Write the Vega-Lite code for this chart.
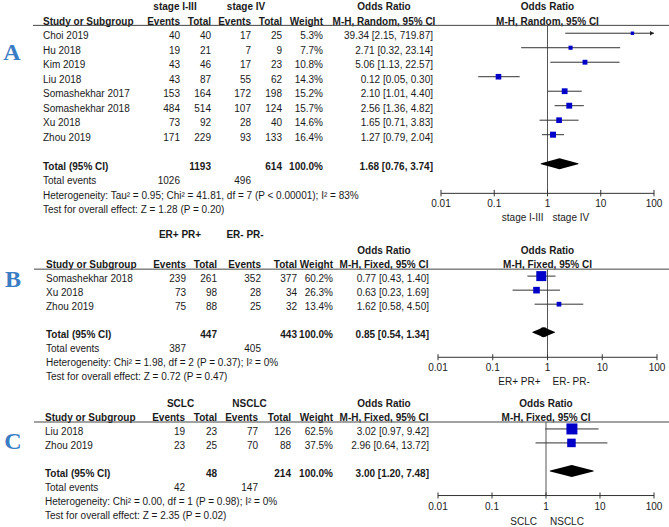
{
"$schema": "https://vega.github.io/schema/vega-lite/v6.json",
"padding": 0,
"spacing": 0,
"config": {"view": {"stroke": null}, "text": {"font": "Liberation Sans", "fontSize": 10, "color": "#1a1a1a", "baseline": "middle"}},
"datasets": {
"A": [
{"kind": "group", "row": 0, "g1": "stage I-III", "g2": "stage IV", "orh": "Odds Ratio"},
{"kind": "header", "row": 1, "label": "Study or Subgroup", "e1": "Events", "n1": "Total", "e2": "Events", "n2": "Total", "w": "Weight", "orh": "M-H, Random, 95% CI"},
{"kind": "study", "row": 2, "label": "Choi 2019", "e1": "40", "n1": "40", "e2": "17", "n2": "25", "w": "5.3%", "ci": "39.34 [2.15, 719.87]", "or": 39.34, "lo": 2.15, "hi": 719.87, "wt": 5.3},
{"kind": "study", "row": 3, "label": "Hu 2018", "e1": "19", "n1": "21", "e2": "7", "n2": "9", "w": "7.7%", "ci": "2.71 [0.32, 23.14]", "or": 2.71, "lo": 0.32, "hi": 23.14, "wt": 7.7},
{"kind": "study", "row": 4, "label": "Kim 2019", "e1": "43", "n1": "46", "e2": "17", "n2": "23", "w": "10.8%", "ci": "5.06 [1.13, 22.57]", "or": 5.06, "lo": 1.13, "hi": 22.57, "wt": 10.8},
{"kind": "study", "row": 5, "label": "Liu 2018", "e1": "43", "n1": "87", "e2": "55", "n2": "62", "w": "14.3%", "ci": "0.12 [0.05, 0.30]", "or": 0.12, "lo": 0.05, "hi": 0.30, "wt": 14.3},
{"kind": "study", "row": 6, "label": "Somashekhar 2017", "e1": "153", "n1": "164", "e2": "172", "n2": "198", "w": "15.2%", "ci": "2.10 [1.01, 4.40]", "or": 2.10, "lo": 1.01, "hi": 4.40, "wt": 15.2},
{"kind": "study", "row": 7, "label": "Somashekhar 2018", "e1": "484", "n1": "514", "e2": "107", "n2": "124", "w": "15.7%", "ci": "2.56 [1.36, 4.82]", "or": 2.56, "lo": 1.36, "hi": 4.82, "wt": 15.7},
{"kind": "study", "row": 8, "label": "Xu 2018", "e1": "73", "n1": "92", "e2": "28", "n2": "40", "w": "14.6%", "ci": "1.65 [0.71, 3.83]", "or": 1.65, "lo": 0.71, "hi": 3.83, "wt": 14.6},
{"kind": "study", "row": 9, "label": "Zhou 2019", "e1": "171", "n1": "229", "e2": "93", "n2": "133", "w": "16.4%", "ci": "1.27 [0.79, 2.04]", "or": 1.27, "lo": 0.79, "hi": 2.04, "wt": 16.4},
{"kind": "total", "row": 11, "label": "Total (95% CI)", "n1": "1193", "n2": "614", "w": "100.0%", "ci": "1.68 [0.76, 3.74]", "or": 1.68, "lo": 0.76, "hi": 3.74},
{"kind": "events", "row": 12, "label": "Total events", "e1": "1026", "e2": "496"},
{"kind": "note", "row": 13, "label": "Heterogeneity: Tau² = 0.95; Chi² = 41.81, df = 7 (P < 0.00001); I² = 83%"},
{"kind": "note", "row": 14, "label": "Test for overall effect: Z = 1.28 (P = 0.20)"}
],
"B": [
{"kind": "group", "row": -1.15, "g1": "ER+ PR+", "g2": "ER- PR-"},
{"kind": "orgroup", "row": 0, "orh": "Odds Ratio"},
{"kind": "header", "row": 1, "label": "Study or Subgroup", "e1": "Events", "n1": "Total", "e2": "Events", "n2": "Total", "w": "Weight", "orh": "M-H, Fixed, 95% CI"},
{"kind": "study", "row": 2, "label": "Somashekhar 2018", "e1": "239", "n1": "261", "e2": "352", "n2": "377", "w": "60.2%", "ci": "0.77 [0.43, 1.40]", "or": 0.77, "lo": 0.43, "hi": 1.40, "wt": 60.2},
{"kind": "study", "row": 3, "label": "Xu 2018", "e1": "73", "n1": "98", "e2": "28", "n2": "34", "w": "26.3%", "ci": "0.63 [0.23, 1.69]", "or": 0.63, "lo": 0.23, "hi": 1.69, "wt": 26.3},
{"kind": "study", "row": 4, "label": "Zhou 2019", "e1": "75", "n1": "88", "e2": "25", "n2": "32", "w": "13.4%", "ci": "1.62 [0.58, 4.50]", "or": 1.62, "lo": 0.58, "hi": 4.50, "wt": 13.4},
{"kind": "total", "row": 6, "label": "Total (95% CI)", "n1": "447", "n2": "443", "w": "100.0%", "ci": "0.85 [0.54, 1.34]", "or": 0.85, "lo": 0.54, "hi": 1.34},
{"kind": "events", "row": 7, "label": "Total events", "e1": "387", "e2": "405"},
{"kind": "note", "row": 8, "label": "Heterogeneity: Chi² = 1.98, df = 2 (P = 0.37); I² = 0%"},
{"kind": "note", "row": 9, "label": "Test for overall effect: Z = 0.72 (P = 0.47)"}
],
"C": [
{"kind": "group", "row": 0, "g1": "SCLC", "g2": "NSCLC", "orh": "Odds Ratio"},
{"kind": "header", "row": 1, "label": "Study or Subgroup", "e1": "Events", "n1": "Total", "e2": "Events", "n2": "Total", "w": "Weight", "orh": "M-H, Fixed, 95% CI"},
{"kind": "study", "row": 2, "label": "Liu 2018", "e1": "19", "n1": "23", "e2": "77", "n2": "126", "w": "62.5%", "ci": "3.02 [0.97, 9.42]", "or": 3.02, "lo": 0.97, "hi": 9.42, "wt": 62.5},
{"kind": "study", "row": 3, "label": "Zhou 2019", "e1": "23", "n1": "25", "e2": "70", "n2": "88", "w": "37.5%", "ci": "2.96 [0.64, 13.72]", "or": 2.96, "lo": 0.64, "hi": 13.72, "wt": 37.5},
{"kind": "total", "row": 5, "label": "Total (95% CI)", "n1": "48", "n2": "214", "w": "100.0%", "ci": "3.00 [1.20, 7.48]", "or": 3.00, "lo": 1.20, "hi": 7.48},
{"kind": "events", "row": 6, "label": "Total events", "e1": "42", "e2": "147"},
{"kind": "note", "row": 7, "label": "Heterogeneity: Chi² = 0.00, df = 1 (P = 0.98); I² = 0%"},
{"kind": "note", "row": 8, "label": "Test for overall effect: Z = 2.35 (P = 0.02)"}
],
"ticks": [
{"t": 0.01, "lab": "0.01"}, {"t": 0.1, "lab": "0.1"}, {"t": 1, "lab": "1"}, {"t": 10, "lab": "10"}, {"t": 100, "lab": "100"}
]
},
"vconcat": [
{"hconcat": [
{"width": 441, "height": 229, "data": {"name": "A"},
"layer": [
{"transform": [{"filter": "datum.label"}], "mark": {"type": "text", "align": "left", "fontWeight": {"expr": "datum.kind=='header'||datum.kind=='total'?'bold':'normal'"}}, "encoding": {"x": {"datum": 43, "type": "quantitative", "scale": {"domain": [0, 441], "nice": false, "zero": false}, "axis": null}, "y": {"field": "row", "type": "quantitative", "scale": {"domain": [-0.5, 15.3], "reverse": true, "nice": false, "zero": false}, "axis": null}, "text": {"field": "label", "type": "nominal"}}},
{"transform": [{"filter": "datum.e1"}], "mark": {"type": "text", "align": "right", "fontWeight": {"expr": "datum.kind=='header'||datum.kind=='total'?'bold':'normal'"}}, "encoding": {"x": {"datum": 180, "type": "quantitative", "scale": {"domain": [0, 441], "nice": false, "zero": false}, "axis": null}, "y": {"field": "row", "type": "quantitative", "scale": {"domain": [-0.5, 15.3], "reverse": true, "nice": false, "zero": false}, "axis": null}, "text": {"field": "e1", "type": "nominal"}}},
{"transform": [{"filter": "datum.n1"}], "mark": {"type": "text", "align": "right", "fontWeight": {"expr": "datum.kind=='header'||datum.kind=='total'?'bold':'normal'"}}, "encoding": {"x": {"datum": 211, "type": "quantitative", "scale": {"domain": [0, 441], "nice": false, "zero": false}, "axis": null}, "y": {"field": "row", "type": "quantitative", "scale": {"domain": [-0.5, 15.3], "reverse": true, "nice": false, "zero": false}, "axis": null}, "text": {"field": "n1", "type": "nominal"}}},
{"transform": [{"filter": "datum.e2"}], "mark": {"type": "text", "align": "right", "fontWeight": {"expr": "datum.kind=='header'||datum.kind=='total'?'bold':'normal'"}}, "encoding": {"x": {"datum": 251, "type": "quantitative", "scale": {"domain": [0, 441], "nice": false, "zero": false}, "axis": null}, "y": {"field": "row", "type": "quantitative", "scale": {"domain": [-0.5, 15.3], "reverse": true, "nice": false, "zero": false}, "axis": null}, "text": {"field": "e2", "type": "nominal"}}},
{"transform": [{"filter": "datum.n2"}], "mark": {"type": "text", "align": "right", "fontWeight": {"expr": "datum.kind=='header'||datum.kind=='total'?'bold':'normal'"}}, "encoding": {"x": {"datum": 282, "type": "quantitative", "scale": {"domain": [0, 441], "nice": false, "zero": false}, "axis": null}, "y": {"field": "row", "type": "quantitative", "scale": {"domain": [-0.5, 15.3], "reverse": true, "nice": false, "zero": false}, "axis": null}, "text": {"field": "n2", "type": "nominal"}}},
{"transform": [{"filter": "datum.w"}], "mark": {"type": "text", "align": "right", "fontWeight": {"expr": "datum.kind=='header'||datum.kind=='total'?'bold':'normal'"}}, "encoding": {"x": {"datum": 323, "type": "quantitative", "scale": {"domain": [0, 441], "nice": false, "zero": false}, "axis": null}, "y": {"field": "row", "type": "quantitative", "scale": {"domain": [-0.5, 15.3], "reverse": true, "nice": false, "zero": false}, "axis": null}, "text": {"field": "w", "type": "nominal"}}},
{"transform": [{"filter": "datum.ci"}], "mark": {"type": "text", "align": "right", "fontWeight": {"expr": "datum.kind=='header'||datum.kind=='total'?'bold':'normal'"}}, "encoding": {"x": {"datum": 433, "type": "quantitative", "scale": {"domain": [0, 441], "nice": false, "zero": false}, "axis": null}, "y": {"field": "row", "type": "quantitative", "scale": {"domain": [-0.5, 15.3], "reverse": true, "nice": false, "zero": false}, "axis": null}, "text": {"field": "ci", "type": "nominal"}}},
{"transform": [{"filter": "datum.g1"}], "mark": {"type": "text", "align": "center", "fontWeight": "bold"}, "encoding": {"x": {"datum": 175, "type": "quantitative", "scale": {"domain": [0, 441], "nice": false, "zero": false}, "axis": null}, "y": {"field": "row", "type": "quantitative", "scale": {"domain": [-0.5, 15.3], "reverse": true, "nice": false, "zero": false}, "axis": null}, "text": {"field": "g1", "type": "nominal"}}},
{"transform": [{"filter": "datum.g2"}], "mark": {"type": "text", "align": "center", "fontWeight": "bold"}, "encoding": {"x": {"datum": 246, "type": "quantitative", "scale": {"domain": [0, 441], "nice": false, "zero": false}, "axis": null}, "y": {"field": "row", "type": "quantitative", "scale": {"domain": [-0.5, 15.3], "reverse": true, "nice": false, "zero": false}, "axis": null}, "text": {"field": "g2", "type": "nominal"}}},
{"transform": [{"filter": "datum.orh"}], "mark": {"type": "text", "align": "center", "fontWeight": "bold"}, "encoding": {"x": {"datum": 384, "type": "quantitative", "scale": {"domain": [0, 441], "nice": false, "zero": false}, "axis": null}, "y": {"field": "row", "type": "quantitative", "scale": {"domain": [-0.5, 15.3], "reverse": true, "nice": false, "zero": false}, "axis": null}, "text": {"field": "orh", "type": "nominal"}}},
{"data": {"values": [{}]}, "mark": {"type": "rule", "color": "#444"}, "encoding": {"x": {"datum": 33, "type": "quantitative", "scale": {"domain": [0, 441], "nice": false, "zero": false}, "axis": null}, "x2": {"datum": 441}, "y": {"datum": 1.25, "type": "quantitative", "scale": {"domain": [-0.5, 15.3], "reverse": true, "nice": false, "zero": false}, "axis": null}}},
{"data": {"values": [{"p": "A"}]}, "mark": {"type": "text", "font": "Liberation Serif", "fontSize": 24, "fontWeight": "bold", "color": "#3b7dc4"}, "encoding": {"x": {"datum": 12, "type": "quantitative", "scale": {"domain": [0, 441], "nice": false, "zero": false}, "axis": null}, "y": {"datum": 3.16, "type": "quantitative", "scale": {"domain": [-0.5, 15.3], "reverse": true, "nice": false, "zero": false}, "axis": null}, "text": {"field": "p", "type": "nominal"}}}
]},
{"width": 213, "height": 229, "data": {"name": "A"},
"resolve": {"scale": {"size": "independent"}},
"layer": [
{"transform": [{"filter": "datum.orh"}], "mark": {"type": "text", "fontWeight": "bold"}, "encoding": {"x": {"datum": 1, "type": "quantitative", "scale": {"type": "log", "domain": [0.01, 100], "nice": false, "clamp": true}, "axis": null}, "y": {"field": "row", "type": "quantitative", "scale": {"domain": [-0.5, 15.3], "reverse": true, "nice": false, "zero": false}, "axis": null}, "text": {"field": "orh", "type": "nominal"}}},
{"data": {"values": [{}]}, "mark": {"type": "rule", "color": "#444", "x2Offset": 15}, "encoding": {"x": {"datum": 0.01, "type": "quantitative", "scale": {"type": "log", "domain": [0.01, 100], "nice": false, "clamp": true}, "axis": null}, "x2": {"datum": 100}, "y": {"datum": 1.25, "type": "quantitative", "scale": {"domain": [-0.5, 15.3], "reverse": true, "nice": false, "zero": false}, "axis": null}}},
{"data": {"values": [{}]}, "mark": {"type": "rule", "color": "#555"}, "encoding": {"x": {"datum": 1, "type": "quantitative", "scale": {"type": "log", "domain": [0.01, 100], "nice": false, "clamp": true}, "axis": null}, "y": {"datum": 1.25, "type": "quantitative", "scale": {"domain": [-0.5, 15.3], "reverse": true, "nice": false, "zero": false}, "axis": null}, "y2": {"datum": 12.84}}},
{"data": {"values": [{}]}, "mark": {"type": "rule", "color": "#333"}, "encoding": {"x": {"datum": 0.01, "type": "quantitative", "scale": {"type": "log", "domain": [0.01, 100], "nice": false, "clamp": true}, "axis": null}, "x2": {"datum": 100}, "y": {"datum": 12.84, "type": "quantitative", "scale": {"domain": [-0.5, 15.3], "reverse": true, "nice": false, "zero": false}, "axis": null}}},
{"data": {"name": "ticks"}, "mark": {"type": "rule", "color": "#333"}, "encoding": {"x": {"field": "t", "type": "quantitative", "scale": {"type": "log", "domain": [0.01, 100], "nice": false, "clamp": true}, "axis": null}, "y": {"datum": 12.6, "type": "quantitative", "scale": {"domain": [-0.5, 15.3], "reverse": true, "nice": false, "zero": false}, "axis": null}, "y2": {"datum": 13.05}}},
{"data": {"name": "ticks"}, "mark": {"type": "text"}, "encoding": {"x": {"field": "t", "type": "quantitative", "scale": {"type": "log", "domain": [0.01, 100], "nice": false, "clamp": true}, "axis": null}, "y": {"datum": 13.6, "type": "quantitative", "scale": {"domain": [-0.5, 15.3], "reverse": true, "nice": false, "zero": false}, "axis": null}, "text": {"field": "lab", "type": "nominal"}}},
{"data": {"values": [{"s": "stage I-III"}]}, "mark": {"type": "text", "align": "right", "dx": -4}, "encoding": {"x": {"datum": 1, "type": "quantitative", "scale": {"type": "log", "domain": [0.01, 100], "nice": false, "clamp": true}, "axis": null}, "y": {"datum": 14.56, "type": "quantitative", "scale": {"domain": [-0.5, 15.3], "reverse": true, "nice": false, "zero": false}, "axis": null}, "text": {"field": "s", "type": "nominal"}}},
{"data": {"values": [{"s": "stage IV"}]}, "mark": {"type": "text", "align": "left", "dx": 5}, "encoding": {"x": {"datum": 1, "type": "quantitative", "scale": {"type": "log", "domain": [0.01, 100], "nice": false, "clamp": true}, "axis": null}, "y": {"datum": 14.56, "type": "quantitative", "scale": {"domain": [-0.5, 15.3], "reverse": true, "nice": false, "zero": false}, "axis": null}, "text": {"field": "s", "type": "nominal"}}},
{"transform": [{"filter": "datum.kind=='study'"}], "mark": {"type": "rule", "color": "#333", "yOffset": -3}, "encoding": {"x": {"field": "lo", "type": "quantitative", "scale": {"type": "log", "domain": [0.01, 100], "nice": false, "clamp": true}, "axis": null}, "x2": {"field": "hi"}, "y": {"field": "row", "type": "quantitative", "scale": {"domain": [-0.5, 15.3], "reverse": true, "nice": false, "zero": false}, "axis": null}}},
{"transform": [{"filter": "datum.kind=='study' && datum.hi > 100"}], "mark": {"type": "point", "shape": "triangle-right", "filled": true, "color": "#222", "opacity": 1, "size": 22, "yOffset": -3, "xOffset": -2}, "encoding": {"x": {"datum": 100, "type": "quantitative", "scale": {"type": "log", "domain": [0.01, 100], "nice": false, "clamp": true}, "axis": null}, "y": {"field": "row", "type": "quantitative", "scale": {"domain": [-0.5, 15.3], "reverse": true, "nice": false, "zero": false}, "axis": null}}},
{"transform": [{"filter": "datum.kind=='study'"}], "mark": {"type": "point", "shape": "square", "filled": true, "color": "#0000c8", "opacity": 1, "yOffset": -3}, "encoding": {"x": {"field": "or", "type": "quantitative", "scale": {"type": "log", "domain": [0.01, 100], "nice": false, "clamp": true}, "axis": null}, "y": {"field": "row", "type": "quantitative", "scale": {"domain": [-0.5, 15.3], "reverse": true, "nice": false, "zero": false}, "axis": null}, "size": {"field": "wt", "type": "quantitative", "scale": {"domain": [0, 16.4], "range": [0, 36]}, "legend": null}}},
{"transform": [{"filter": "datum.kind=='total'"}, {"fold": ["lo", "or", "hi"], "as": ["k", "v"]}], "mark": {"type": "trail", "color": "#000", "size": {"expr": "datum.k=='or'?11:0"}, "yOffset": -3}, "encoding": {"x": {"field": "v", "type": "quantitative", "scale": {"type": "log", "domain": [0.01, 100], "nice": false, "clamp": true}, "axis": null}, "y": {"field": "row", "type": "quantitative", "scale": {"domain": [-0.5, 15.3], "reverse": true, "nice": false, "zero": false}, "axis": null}}}
]}
], "spacing": 0, "bounds": "flush"},
{"hconcat": [
{"width": 438, "height": 161, "data": {"name": "B"},
"layer": [
{"transform": [{"filter": "datum.label"}], "mark": {"type": "text", "align": "left", "fontWeight": {"expr": "datum.kind=='header'||datum.kind=='total'?'bold':'normal'"}}, "encoding": {"x": {"datum": 46, "type": "quantitative", "scale": {"domain": [0, 438], "nice": false, "zero": false}, "axis": null}, "y": {"field": "row", "type": "quantitative", "scale": {"domain": [-1.57, 9.9], "reverse": true, "nice": false, "zero": false}, "axis": null}, "text": {"field": "label", "type": "nominal"}}},
{"transform": [{"filter": "datum.e1"}], "mark": {"type": "text", "align": "right", "fontWeight": {"expr": "datum.kind=='header'||datum.kind=='total'?'bold':'normal'"}}, "encoding": {"x": {"datum": 186, "type": "quantitative", "scale": {"domain": [0, 438], "nice": false, "zero": false}, "axis": null}, "y": {"field": "row", "type": "quantitative", "scale": {"domain": [-1.57, 9.9], "reverse": true, "nice": false, "zero": false}, "axis": null}, "text": {"field": "e1", "type": "nominal"}}},
{"transform": [{"filter": "datum.n1"}], "mark": {"type": "text", "align": "right", "fontWeight": {"expr": "datum.kind=='header'||datum.kind=='total'?'bold':'normal'"}}, "encoding": {"x": {"datum": 217, "type": "quantitative", "scale": {"domain": [0, 438], "nice": false, "zero": false}, "axis": null}, "y": {"field": "row", "type": "quantitative", "scale": {"domain": [-1.57, 9.9], "reverse": true, "nice": false, "zero": false}, "axis": null}, "text": {"field": "n1", "type": "nominal"}}},
{"transform": [{"filter": "datum.e2"}], "mark": {"type": "text", "align": "right", "fontWeight": {"expr": "datum.kind=='header'||datum.kind=='total'?'bold':'normal'"}}, "encoding": {"x": {"datum": 261, "type": "quantitative", "scale": {"domain": [0, 438], "nice": false, "zero": false}, "axis": null}, "y": {"field": "row", "type": "quantitative", "scale": {"domain": [-1.57, 9.9], "reverse": true, "nice": false, "zero": false}, "axis": null}, "text": {"field": "e2", "type": "nominal"}}},
{"transform": [{"filter": "datum.n2"}], "mark": {"type": "text", "align": "right", "fontWeight": {"expr": "datum.kind=='header'||datum.kind=='total'?'bold':'normal'"}}, "encoding": {"x": {"datum": 297, "type": "quantitative", "scale": {"domain": [0, 438], "nice": false, "zero": false}, "axis": null}, "y": {"field": "row", "type": "quantitative", "scale": {"domain": [-1.57, 9.9], "reverse": true, "nice": false, "zero": false}, "axis": null}, "text": {"field": "n2", "type": "nominal"}}},
{"transform": [{"filter": "datum.w"}], "mark": {"type": "text", "align": "right", "fontWeight": {"expr": "datum.kind=='header'||datum.kind=='total'?'bold':'normal'"}}, "encoding": {"x": {"datum": 333, "type": "quantitative", "scale": {"domain": [0, 438], "nice": false, "zero": false}, "axis": null}, "y": {"field": "row", "type": "quantitative", "scale": {"domain": [-1.57, 9.9], "reverse": true, "nice": false, "zero": false}, "axis": null}, "text": {"field": "w", "type": "nominal"}}},
{"transform": [{"filter": "datum.ci"}], "mark": {"type": "text", "align": "right", "fontWeight": {"expr": "datum.kind=='header'||datum.kind=='total'?'bold':'normal'"}}, "encoding": {"x": {"datum": 429, "type": "quantitative", "scale": {"domain": [0, 438], "nice": false, "zero": false}, "axis": null}, "y": {"field": "row", "type": "quantitative", "scale": {"domain": [-1.57, 9.9], "reverse": true, "nice": false, "zero": false}, "axis": null}, "text": {"field": "ci", "type": "nominal"}}},
{"transform": [{"filter": "datum.g1"}], "mark": {"type": "text", "align": "center", "fontWeight": "bold"}, "encoding": {"x": {"datum": 180, "type": "quantitative", "scale": {"domain": [0, 438], "nice": false, "zero": false}, "axis": null}, "y": {"field": "row", "type": "quantitative", "scale": {"domain": [-1.57, 9.9], "reverse": true, "nice": false, "zero": false}, "axis": null}, "text": {"field": "g1", "type": "nominal"}}},
{"transform": [{"filter": "datum.g2"}], "mark": {"type": "text", "align": "center", "fontWeight": "bold"}, "encoding": {"x": {"datum": 245, "type": "quantitative", "scale": {"domain": [0, 438], "nice": false, "zero": false}, "axis": null}, "y": {"field": "row", "type": "quantitative", "scale": {"domain": [-1.57, 9.9], "reverse": true, "nice": false, "zero": false}, "axis": null}, "text": {"field": "g2", "type": "nominal"}}},
{"transform": [{"filter": "datum.orh"}], "mark": {"type": "text", "align": "center", "fontWeight": "bold"}, "encoding": {"x": {"datum": 384, "type": "quantitative", "scale": {"domain": [0, 438], "nice": false, "zero": false}, "axis": null}, "y": {"field": "row", "type": "quantitative", "scale": {"domain": [-1.57, 9.9], "reverse": true, "nice": false, "zero": false}, "axis": null}, "text": {"field": "orh", "type": "nominal"}}},
{"data": {"values": [{}]}, "mark": {"type": "rule", "color": "#444"}, "encoding": {"x": {"datum": 34, "type": "quantitative", "scale": {"domain": [0, 438], "nice": false, "zero": false}, "axis": null}, "x2": {"datum": 438}, "y": {"datum": 1.29, "type": "quantitative", "scale": {"domain": [-1.57, 9.9], "reverse": true, "nice": false, "zero": false}, "axis": null}}},
{"data": {"values": [{"p": "B"}]}, "mark": {"type": "text", "font": "Liberation Serif", "fontSize": 24, "fontWeight": "bold", "color": "#3b7dc4"}, "encoding": {"x": {"datum": 13, "type": "quantitative", "scale": {"domain": [0, 438], "nice": false, "zero": false}, "axis": null}, "y": {"datum": 2.07, "type": "quantitative", "scale": {"domain": [-1.57, 9.9], "reverse": true, "nice": false, "zero": false}, "axis": null}, "text": {"field": "p", "type": "nominal"}}}
]},
{"width": 219, "height": 161, "data": {"name": "B"},
"resolve": {"scale": {"size": "independent"}},
"layer": [
{"transform": [{"filter": "datum.orh"}], "mark": {"type": "text", "fontWeight": "bold"}, "encoding": {"x": {"datum": 1, "type": "quantitative", "scale": {"type": "log", "domain": [0.01, 100], "nice": false, "clamp": true}, "axis": null}, "y": {"field": "row", "type": "quantitative", "scale": {"domain": [-1.57, 9.9], "reverse": true, "nice": false, "zero": false}, "axis": null}, "text": {"field": "orh", "type": "nominal"}}},
{"data": {"values": [{}]}, "mark": {"type": "rule", "color": "#444", "x2Offset": 12}, "encoding": {"x": {"datum": 0.01, "type": "quantitative", "scale": {"type": "log", "domain": [0.01, 100], "nice": false, "clamp": true}, "axis": null}, "x2": {"datum": 100}, "y": {"datum": 1.29, "type": "quantitative", "scale": {"domain": [-1.57, 9.9], "reverse": true, "nice": false, "zero": false}, "axis": null}}},
{"data": {"values": [{}]}, "mark": {"type": "rule", "color": "#555"}, "encoding": {"x": {"datum": 1, "type": "quantitative", "scale": {"type": "log", "domain": [0.01, 100], "nice": false, "clamp": true}, "axis": null}, "y": {"datum": 1.29, "type": "quantitative", "scale": {"domain": [-1.57, 9.9], "reverse": true, "nice": false, "zero": false}, "axis": null}, "y2": {"datum": 7.57}}},
{"data": {"values": [{}]}, "mark": {"type": "rule", "color": "#333"}, "encoding": {"x": {"datum": 0.01, "type": "quantitative", "scale": {"type": "log", "domain": [0.01, 100], "nice": false, "clamp": true}, "axis": null}, "x2": {"datum": 100}, "y": {"datum": 7.57, "type": "quantitative", "scale": {"domain": [-1.57, 9.9], "reverse": true, "nice": false, "zero": false}, "axis": null}}},
{"data": {"name": "ticks"}, "mark": {"type": "rule", "color": "#333"}, "encoding": {"x": {"field": "t", "type": "quantitative", "scale": {"type": "log", "domain": [0.01, 100], "nice": false, "clamp": true}, "axis": null}, "y": {"datum": 7.35, "type": "quantitative", "scale": {"domain": [-1.57, 9.9], "reverse": true, "nice": false, "zero": false}, "axis": null}, "y2": {"datum": 7.78}}},
{"data": {"name": "ticks"}, "mark": {"type": "text"}, "encoding": {"x": {"field": "t", "type": "quantitative", "scale": {"type": "log", "domain": [0.01, 100], "nice": false, "clamp": true}, "axis": null}, "y": {"datum": 8.36, "type": "quantitative", "scale": {"domain": [-1.57, 9.9], "reverse": true, "nice": false, "zero": false}, "axis": null}, "text": {"field": "lab", "type": "nominal"}}},
{"data": {"values": [{"s": "ER+ PR+"}]}, "mark": {"type": "text", "align": "right", "dx": -7}, "encoding": {"x": {"datum": 1, "type": "quantitative", "scale": {"type": "log", "domain": [0.01, 100], "nice": false, "clamp": true}, "axis": null}, "y": {"datum": 9.36, "type": "quantitative", "scale": {"domain": [-1.57, 9.9], "reverse": true, "nice": false, "zero": false}, "axis": null}, "text": {"field": "s", "type": "nominal"}}},
{"data": {"values": [{"s": "ER- PR-"}]}, "mark": {"type": "text", "align": "left", "dx": 5}, "encoding": {"x": {"datum": 1, "type": "quantitative", "scale": {"type": "log", "domain": [0.01, 100], "nice": false, "clamp": true}, "axis": null}, "y": {"datum": 9.36, "type": "quantitative", "scale": {"domain": [-1.57, 9.9], "reverse": true, "nice": false, "zero": false}, "axis": null}, "text": {"field": "s", "type": "nominal"}}},
{"transform": [{"filter": "datum.kind=='study'"}], "mark": {"type": "rule", "color": "#333", "yOffset": -3}, "encoding": {"x": {"field": "lo", "type": "quantitative", "scale": {"type": "log", "domain": [0.01, 100], "nice": false, "clamp": true}, "axis": null}, "x2": {"field": "hi"}, "y": {"field": "row", "type": "quantitative", "scale": {"domain": [-1.57, 9.9], "reverse": true, "nice": false, "zero": false}, "axis": null}}},
{"transform": [{"filter": "datum.kind=='study'"}], "mark": {"type": "point", "shape": "square", "filled": true, "color": "#0000c8", "opacity": 1, "yOffset": -3}, "encoding": {"x": {"field": "or", "type": "quantitative", "scale": {"type": "log", "domain": [0.01, 100], "nice": false, "clamp": true}, "axis": null}, "y": {"field": "row", "type": "quantitative", "scale": {"domain": [-1.57, 9.9], "reverse": true, "nice": false, "zero": false}, "axis": null}, "size": {"field": "wt", "type": "quantitative", "scale": {"domain": [0, 60.2], "range": [0, 100]}, "legend": null}}},
{"transform": [{"filter": "datum.kind=='total'"}, {"fold": ["lo", "or", "hi"], "as": ["k", "v"]}], "mark": {"type": "trail", "color": "#000", "size": {"expr": "datum.k=='or'?10:0"}, "yOffset": -3}, "encoding": {"x": {"field": "v", "type": "quantitative", "scale": {"type": "log", "domain": [0.01, 100], "nice": false, "clamp": true}, "axis": null}, "y": {"field": "row", "type": "quantitative", "scale": {"domain": [-1.57, 9.9], "reverse": true, "nice": false, "zero": false}, "axis": null}}}
]}
], "spacing": 0, "bounds": "flush"},
{"hconcat": [
{"width": 438, "height": 137, "data": {"name": "C"},
"layer": [
{"transform": [{"filter": "datum.label"}], "mark": {"type": "text", "align": "left", "fontWeight": {"expr": "datum.kind=='header'||datum.kind=='total'?'bold':'normal'"}}, "encoding": {"x": {"datum": 45, "type": "quantitative", "scale": {"domain": [0, 438], "nice": false, "zero": false}, "axis": null}, "y": {"field": "row", "type": "quantitative", "scale": {"domain": [-1, 8.8], "reverse": true, "nice": false, "zero": false}, "axis": null}, "text": {"field": "label", "type": "nominal"}}},
{"transform": [{"filter": "datum.e1"}], "mark": {"type": "text", "align": "right", "fontWeight": {"expr": "datum.kind=='header'||datum.kind=='total'?'bold':'normal'"}}, "encoding": {"x": {"datum": 185, "type": "quantitative", "scale": {"domain": [0, 438], "nice": false, "zero": false}, "axis": null}, "y": {"field": "row", "type": "quantitative", "scale": {"domain": [-1, 8.8], "reverse": true, "nice": false, "zero": false}, "axis": null}, "text": {"field": "e1", "type": "nominal"}}},
{"transform": [{"filter": "datum.n1"}], "mark": {"type": "text", "align": "right", "fontWeight": {"expr": "datum.kind=='header'||datum.kind=='total'?'bold':'normal'"}}, "encoding": {"x": {"datum": 217, "type": "quantitative", "scale": {"domain": [0, 438], "nice": false, "zero": false}, "axis": null}, "y": {"field": "row", "type": "quantitative", "scale": {"domain": [-1, 8.8], "reverse": true, "nice": false, "zero": false}, "axis": null}, "text": {"field": "n1", "type": "nominal"}}},
{"transform": [{"filter": "datum.e2"}], "mark": {"type": "text", "align": "right", "fontWeight": {"expr": "datum.kind=='header'||datum.kind=='total'?'bold':'normal'"}}, "encoding": {"x": {"datum": 258, "type": "quantitative", "scale": {"domain": [0, 438], "nice": false, "zero": false}, "axis": null}, "y": {"field": "row", "type": "quantitative", "scale": {"domain": [-1, 8.8], "reverse": true, "nice": false, "zero": false}, "axis": null}, "text": {"field": "e2", "type": "nominal"}}},
{"transform": [{"filter": "datum.n2"}], "mark": {"type": "text", "align": "right", "fontWeight": {"expr": "datum.kind=='header'||datum.kind=='total'?'bold':'normal'"}}, "encoding": {"x": {"datum": 291, "type": "quantitative", "scale": {"domain": [0, 438], "nice": false, "zero": false}, "axis": null}, "y": {"field": "row", "type": "quantitative", "scale": {"domain": [-1, 8.8], "reverse": true, "nice": false, "zero": false}, "axis": null}, "text": {"field": "n2", "type": "nominal"}}},
{"transform": [{"filter": "datum.w"}], "mark": {"type": "text", "align": "right", "fontWeight": {"expr": "datum.kind=='header'||datum.kind=='total'?'bold':'normal'"}}, "encoding": {"x": {"datum": 333, "type": "quantitative", "scale": {"domain": [0, 438], "nice": false, "zero": false}, "axis": null}, "y": {"field": "row", "type": "quantitative", "scale": {"domain": [-1, 8.8], "reverse": true, "nice": false, "zero": false}, "axis": null}, "text": {"field": "w", "type": "nominal"}}},
{"transform": [{"filter": "datum.ci"}], "mark": {"type": "text", "align": "right", "fontWeight": {"expr": "datum.kind=='header'||datum.kind=='total'?'bold':'normal'"}}, "encoding": {"x": {"datum": 429, "type": "quantitative", "scale": {"domain": [0, 438], "nice": false, "zero": false}, "axis": null}, "y": {"field": "row", "type": "quantitative", "scale": {"domain": [-1, 8.8], "reverse": true, "nice": false, "zero": false}, "axis": null}, "text": {"field": "ci", "type": "nominal"}}},
{"transform": [{"filter": "datum.g1"}], "mark": {"type": "text", "align": "center", "fontWeight": "bold"}, "encoding": {"x": {"datum": 180.5, "type": "quantitative", "scale": {"domain": [0, 438], "nice": false, "zero": false}, "axis": null}, "y": {"field": "row", "type": "quantitative", "scale": {"domain": [-1, 8.8], "reverse": true, "nice": false, "zero": false}, "axis": null}, "text": {"field": "g1", "type": "nominal"}}},
{"transform": [{"filter": "datum.g2"}], "mark": {"type": "text", "align": "center", "fontWeight": "bold"}, "encoding": {"x": {"datum": 249.5, "type": "quantitative", "scale": {"domain": [0, 438], "nice": false, "zero": false}, "axis": null}, "y": {"field": "row", "type": "quantitative", "scale": {"domain": [-1, 8.8], "reverse": true, "nice": false, "zero": false}, "axis": null}, "text": {"field": "g2", "type": "nominal"}}},
{"transform": [{"filter": "datum.orh"}], "mark": {"type": "text", "align": "center", "fontWeight": "bold"}, "encoding": {"x": {"datum": 384, "type": "quantitative", "scale": {"domain": [0, 438], "nice": false, "zero": false}, "axis": null}, "y": {"field": "row", "type": "quantitative", "scale": {"domain": [-1, 8.8], "reverse": true, "nice": false, "zero": false}, "axis": null}, "text": {"field": "orh", "type": "nominal"}}},
{"data": {"values": [{}]}, "mark": {"type": "rule", "color": "#444"}, "encoding": {"x": {"datum": 34, "type": "quantitative", "scale": {"domain": [0, 438], "nice": false, "zero": false}, "axis": null}, "x2": {"datum": 438}, "y": {"datum": 1.29, "type": "quantitative", "scale": {"domain": [-1, 8.8], "reverse": true, "nice": false, "zero": false}, "axis": null}}},
{"data": {"values": [{"p": "C"}]}, "mark": {"type": "text", "font": "Liberation Serif", "fontSize": 24, "fontWeight": "bold", "color": "#3b7dc4"}, "encoding": {"x": {"datum": 13, "type": "quantitative", "scale": {"domain": [0, 438], "nice": false, "zero": false}, "axis": null}, "y": {"datum": 2.69, "type": "quantitative", "scale": {"domain": [-1, 8.8], "reverse": true, "nice": false, "zero": false}, "axis": null}, "text": {"field": "p", "type": "nominal"}}}
]},
{"width": 216, "height": 137, "data": {"name": "C"},
"resolve": {"scale": {"size": "independent"}},
"layer": [
{"transform": [{"filter": "datum.orh"}], "mark": {"type": "text", "fontWeight": "bold"}, "encoding": {"x": {"datum": 1, "type": "quantitative", "scale": {"type": "log", "domain": [0.01, 100], "nice": false, "clamp": true}, "axis": null}, "y": {"field": "row", "type": "quantitative", "scale": {"domain": [-1, 8.8], "reverse": true, "nice": false, "zero": false}, "axis": null}, "text": {"field": "orh", "type": "nominal"}}},
{"data": {"values": [{}]}, "mark": {"type": "rule", "color": "#444", "x2Offset": 15}, "encoding": {"x": {"datum": 0.01, "type": "quantitative", "scale": {"type": "log", "domain": [0.01, 100], "nice": false, "clamp": true}, "axis": null}, "x2": {"datum": 100}, "y": {"datum": 1.29, "type": "quantitative", "scale": {"domain": [-1, 8.8], "reverse": true, "nice": false, "zero": false}, "axis": null}}},
{"data": {"values": [{}]}, "mark": {"type": "rule", "color": "#555"}, "encoding": {"x": {"datum": 1, "type": "quantitative", "scale": {"type": "log", "domain": [0.01, 100], "nice": false, "clamp": true}, "axis": null}, "y": {"datum": 1.29, "type": "quantitative", "scale": {"domain": [-1, 8.8], "reverse": true, "nice": false, "zero": false}, "axis": null}, "y2": {"datum": 6.55}}},
{"data": {"values": [{}]}, "mark": {"type": "rule", "color": "#333"}, "encoding": {"x": {"datum": 0.01, "type": "quantitative", "scale": {"type": "log", "domain": [0.01, 100], "nice": false, "clamp": true}, "axis": null}, "x2": {"datum": 100}, "y": {"datum": 6.55, "type": "quantitative", "scale": {"domain": [-1, 8.8], "reverse": true, "nice": false, "zero": false}, "axis": null}}},
{"data": {"name": "ticks"}, "mark": {"type": "rule", "color": "#333"}, "encoding": {"x": {"field": "t", "type": "quantitative", "scale": {"type": "log", "domain": [0.01, 100], "nice": false, "clamp": true}, "axis": null}, "y": {"datum": 6.33, "type": "quantitative", "scale": {"domain": [-1, 8.8], "reverse": true, "nice": false, "zero": false}, "axis": null}, "y2": {"datum": 6.76}}},
{"data": {"name": "ticks"}, "mark": {"type": "text"}, "encoding": {"x": {"field": "t", "type": "quantitative", "scale": {"type": "log", "domain": [0.01, 100], "nice": false, "clamp": true}, "axis": null}, "y": {"datum": 7.36, "type": "quantitative", "scale": {"domain": [-1, 8.8], "reverse": true, "nice": false, "zero": false}, "axis": null}, "text": {"field": "lab", "type": "nominal"}}},
{"data": {"values": [{"s": "SCLC"}]}, "mark": {"type": "text", "align": "right", "dx": -9}, "encoding": {"x": {"datum": 1, "type": "quantitative", "scale": {"type": "log", "domain": [0.01, 100], "nice": false, "clamp": true}, "axis": null}, "y": {"datum": 8.43, "type": "quantitative", "scale": {"domain": [-1, 8.8], "reverse": true, "nice": false, "zero": false}, "axis": null}, "text": {"field": "s", "type": "nominal"}}},
{"data": {"values": [{"s": "NSCLC"}]}, "mark": {"type": "text", "align": "left", "dx": 4}, "encoding": {"x": {"datum": 1, "type": "quantitative", "scale": {"type": "log", "domain": [0.01, 100], "nice": false, "clamp": true}, "axis": null}, "y": {"datum": 8.43, "type": "quantitative", "scale": {"domain": [-1, 8.8], "reverse": true, "nice": false, "zero": false}, "axis": null}, "text": {"field": "s", "type": "nominal"}}},
{"transform": [{"filter": "datum.kind=='study'"}], "mark": {"type": "rule", "color": "#333", "yOffset": -3}, "encoding": {"x": {"field": "lo", "type": "quantitative", "scale": {"type": "log", "domain": [0.01, 100], "nice": false, "clamp": true}, "axis": null}, "x2": {"field": "hi"}, "y": {"field": "row", "type": "quantitative", "scale": {"domain": [-1, 8.8], "reverse": true, "nice": false, "zero": false}, "axis": null}}},
{"transform": [{"filter": "datum.kind=='study'"}], "mark": {"type": "point", "shape": "square", "filled": true, "color": "#0000c8", "opacity": 1, "yOffset": -3}, "encoding": {"x": {"field": "or", "type": "quantitative", "scale": {"type": "log", "domain": [0.01, 100], "nice": false, "clamp": true}, "axis": null}, "y": {"field": "row", "type": "quantitative", "scale": {"domain": [-1, 8.8], "reverse": true, "nice": false, "zero": false}, "axis": null}, "size": {"field": "wt", "type": "quantitative", "scale": {"domain": [0, 62.5], "range": [0, 121]}, "legend": null}}},
{"transform": [{"filter": "datum.kind=='total'"}, {"fold": ["lo", "or", "hi"], "as": ["k", "v"]}], "mark": {"type": "trail", "color": "#000", "size": {"expr": "datum.k=='or'?12:0"}, "yOffset": -3}, "encoding": {"x": {"field": "v", "type": "quantitative", "scale": {"type": "log", "domain": [0.01, 100], "nice": false, "clamp": true}, "axis": null}, "y": {"field": "row", "type": "quantitative", "scale": {"domain": [-1, 8.8], "reverse": true, "nice": false, "zero": false}, "axis": null}}}
]}
], "spacing": 0, "bounds": "flush"}
]
}
